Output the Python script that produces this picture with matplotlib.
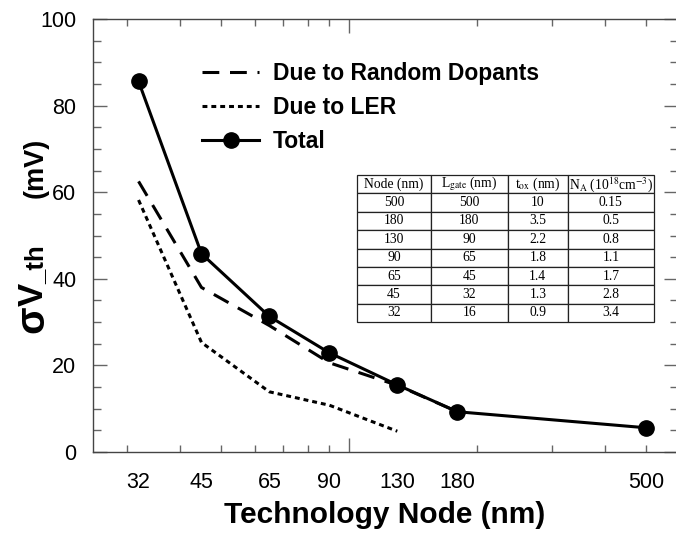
import matplotlib
matplotlib.use("Agg")
import matplotlib.pyplot as plt

plt.rcParams['font.family'] = ['Liberation Sans', 'DejaVu Sans']
plt.rcParams['mathtext.fontset'] = 'stix'

# ---- data ----
nodes = [32, 45, 65, 90, 130, 180, 500]
node_labels = ['32', '45', '65', '90', '130', '180', '500']
total = [85.6, 45.8, 31.3, 22.9, 15.5, 9.3, 5.6]
rdf_nodes = [32, 45, 65, 90, 130, 180]
rdf = [62.5, 38.0, 29.2, 20.6, 15.4, 9.3]
ler_nodes = [32, 45, 65, 90, 130]
ler = [58.2, 25.3, 13.9, 10.8, 4.8]

table_header = ['Node (nm)', r'L$_{\mathrm{gate}}$ (nm)', r't$_{\mathrm{ox}}$ (nm)',
                r'N$_{\mathrm{A}}$ (10$^{18}$cm$^{-3}$)']
table_rows = [
    ['500', '500', '10', '0.15'],
    ['180', '180', '3.5', '0.5'],
    ['130', '90', '2.2', '0.8'],
    ['90', '65', '1.8', '1.1'],
    ['65', '45', '1.4', '1.7'],
    ['45', '32', '1.3', '2.8'],
    ['32', '16', '0.9', '3.4'],
]

W, H = 676, 536
fig = plt.figure(figsize=(W/100, H/100), dpi=100)
ax_l, ax_r, ax_t, ax_b = 93, 678, 19, 452
ax = fig.add_axes([ax_l/W, 1-ax_b/H, (ax_r-ax_l)/W, (ax_b-ax_t)/H])

ax.plot(rdf_nodes, rdf, color='black', lw=2.2, ls=(0, (5.5, 3.5)),
        label='Due to Random Dopants')
ax.plot(ler_nodes, ler, color='black', lw=2.2, ls=(0, (1.6, 1.3)),
        label='Due to LER')
ax.plot(nodes, total, color='black', lw=2.2, marker='o', ms=11,
        label='Total')

ax.set_xscale('log')
ax.set_xlim(25, 595)
ax.set_ylim(0, 100)

# tick marks: standard log ticks (unlabelled) + labels at the node positions
ax.set_xticks([100])
ax.set_xticklabels([''])
ax.set_xticks([30, 40, 50, 60, 70, 80, 90, 200, 300, 400, 500], minor=True)
ax.xaxis.set_minor_formatter(plt.NullFormatter())
ax.tick_params(axis='x', which='major', direction='in', length=10, width=1,
               color='#666666', top=True, bottom=True)
ax.tick_params(axis='x', which='minor', direction='in', length=5, width=1,
               color='#666666', top=True, bottom=True)
for n, lab in zip(nodes, node_labels):
    ax.text(n, -20/433, lab, transform=ax.get_xaxis_transform(),
            ha='center', va='top', fontsize=15.5)

ax.set_yticks([0, 20, 40, 60, 80, 100])
ax.set_yticks(range(5, 100, 5), minor=True)
ax.tick_params(axis='y', which='major', direction='in', length=10, width=1,
               color='#666666', left=True, right=True, labelsize=15.5, pad=12)
ax.tick_params(axis='y', which='minor', direction='in', length=6, width=1,
               color='#666666', left=True, right=True)
for s in ax.spines.values():
    s.set_color('#444444')
    s.set_linewidth(1)

# axis labels
fig.text((ax_l+676)/2/W, 1-523/H, 'Technology Node (nm)', ha='center',
         va='baseline', fontsize=21.5, fontweight='bold')
ylab = [('σ', 333, 29), ('V', 306, 25), ('_th', 284, 18.5), ('(mV)', 198, 19.5)]
for txt, ystart, fs in ylab:
    fig.text(43/W, 1-ystart/H, txt, rotation=90, rotation_mode='anchor',
             ha='left', va='baseline', fontsize=fs, fontweight='bold')

# legend
leg = ax.legend(loc='upper left', bbox_to_anchor=((202-ax_l)/(ax_r-ax_l),
                (ax_b-62)/(ax_b-ax_t)), frameon=False, borderpad=0,
                borderaxespad=0, handlelength=2.5, handletextpad=0.6,
                labelspacing=0.47, prop={'weight': 'bold', 'size': 16.5})

# table
tab = ax.table(cellText=table_rows, colLabels=table_header, cellLoc='center',
               colWidths=[0.249, 0.259, 0.202, 0.290],
               bbox=[(357-ax_l)/(ax_r-ax_l), (ax_b-322)/(ax_b-ax_t),
                     297/(ax_r-ax_l), 147/(ax_b-ax_t)])
tab.auto_set_font_size(False)
for (r, c), cell in tab.get_celld().items():
    cell.set_linewidth(0.9)
    cell.set_edgecolor('#222222')
    cell.get_text().set_fontsize(9.8)
    cell.get_text().set_fontfamily('Liberation Serif')

fig.savefig('out.png', dpi=100)
